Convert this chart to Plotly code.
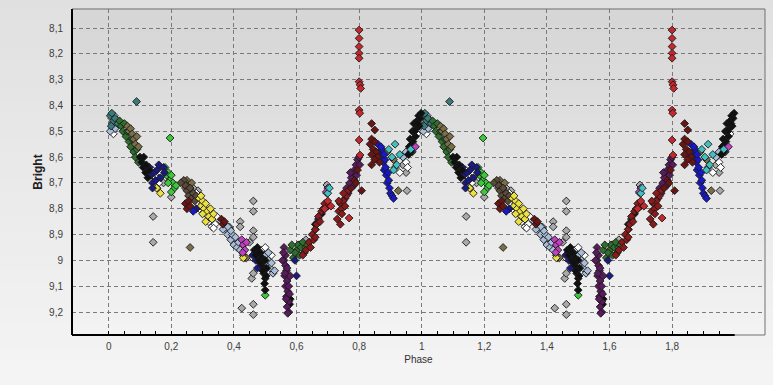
import plotly.graph_objects as go

# ---------------- data (phase 0..1, repeated for 1..2) ----------------
teal_phase = [0.005, 0.01, 0.015, 0.02, 0.008, 0.089, 0.03, 0.97]
teal_mag = [8.44, 8.43, 8.46, 8.45, 8.48, 8.385, 8.47, 8.58]

cyan_phase = [0.895, 0.905, 0.915, 0.92, 0.93, 0.91, 0.70, 0.705, 0.965]
cyan_mag = [8.57, 8.60, 8.55, 8.63, 8.59, 8.65, 8.74, 8.72, 8.57]

steel_phase = [0.012, 0.02, 0.028, 0.005, 0.018, 0.37, 0.375, 0.38, 0.385, 0.39,
               0.395, 0.40, 0.405, 0.41, 0.415, 0.42, 0.39, 0.38, 0.50, 0.51,
               0.515, 0.52, 0.525, 0.53, 0.51, 0.94, 0.95, 0.36, 0.365]
steel_mag = [8.47, 8.49, 8.46, 8.50, 8.44, 8.86, 8.88, 8.90, 8.87, 8.92,
             8.90, 8.94, 8.91, 8.95, 8.93, 8.96, 8.885, 8.87, 8.98, 9.00,
             9.03, 9.01, 9.05, 9.04, 8.97, 8.60, 8.58, 8.85, 8.88]

white_phase = [0.01, 0.025, 0.015, 0.14, 0.15, 0.16, 0.155, 0.165, 0.30, 0.31,
               0.32, 0.33, 0.34, 0.29, 0.28, 0.26, 0.49, 0.50, 0.52, 0.46,
               0.62, 0.64, 0.95, 0.955, 0.93, 0.985, 0.345, 0.335]
white_mag = [8.45, 8.48, 8.51, 8.65, 8.68, 8.70, 8.72, 8.66, 8.78, 8.82,
             8.85, 8.87, 8.86, 8.80, 8.74, 8.72, 8.96, 8.95, 8.98, 8.99,
             8.95, 8.93, 8.62, 8.64, 8.66, 8.51, 8.83, 8.875]

grey_phase = [0.142, 0.142, 0.20, 0.42, 0.42, 0.462, 0.462, 0.462, 0.462, 0.457,
              0.462, 0.425, 0.462, 0.462, 0.697, 0.697, 0.953, 0.95, 0.94, 0.27,
              0.285, 0.17, 0.175, 0.61, 0.63, 0.695, 0.69, 0.45]
grey_mag = [8.83, 8.93, 8.755, 8.85, 8.87, 8.77, 8.81, 8.885, 8.91, 9.07,
            9.05, 9.185, 9.17, 9.21, 8.708, 8.74, 8.73, 8.66, 8.63, 8.72,
            8.73, 8.67, 8.70, 8.94, 8.92, 8.78, 8.80, 8.93]

dkgreen_phase = [0.035, 0.04, 0.045, 0.05, 0.055, 0.06, 0.065, 0.07, 0.075, 0.08,
                 0.085, 0.09, 0.095, 0.60, 0.605, 0.61, 0.615, 0.62, 0.625, 0.63,
                 0.59, 0.595, 0.635, 0.435, 0.43, 0.58, 0.585]
dkgreen_mag = [8.46, 8.48, 8.50, 8.47, 8.52, 8.50, 8.54, 8.56, 8.53, 8.58,
               8.60, 8.57, 8.62, 8.96, 8.94, 8.98, 8.95, 8.93, 8.97, 8.95,
               8.99, 8.97, 8.94, 8.99, 8.98, 8.96, 8.94]

olive_phase = [0.06, 0.065, 0.07, 0.075, 0.08, 0.085, 0.09, 0.095, 0.26, 0.24,
               0.245, 0.25, 0.255, 0.26, 0.265, 0.925, 0.91, 0.915, 0.44, 0.89]
olive_mag = [8.48, 8.50, 8.49, 8.51, 8.53, 8.55, 8.52, 8.56, 8.95, 8.70,
             8.72, 8.69, 8.71, 8.74, 8.70, 8.73, 8.61, 8.64, 8.99, 8.58]

black_phase = [0.10, 0.105, 0.11, 0.112, 0.118, 0.12, 0.125, 0.13, 0.465, 0.47,
               0.475, 0.48, 0.485, 0.49, 0.495, 0.50, 0.50, 0.505, 0.49, 0.48,
               0.495, 0.50, 0.578, 0.58, 0.96, 0.963, 0.965, 0.97, 0.972, 0.975,
               0.98, 0.982, 0.985, 0.99, 0.992, 0.995, 0.998, 0.968, 0.978, 0.988,
               0.66, 0.68, 0.485, 0.492, 0.498, 0.503, 0.975, 0.958]
black_mag = [8.60, 8.62, 8.64, 8.60, 8.66, 8.63, 8.68, 8.65, 8.96, 8.98,
             8.95, 9.00, 8.97, 9.02, 9.05, 9.07, 9.115, 9.03, 8.99, 8.97,
             9.00, 9.00, 9.17, 9.15, 8.56, 8.53, 8.58, 8.50, 8.54, 8.47,
             8.52, 8.49, 8.46, 8.44, 8.48, 8.45, 8.43, 8.55, 8.50, 8.47,
             8.86, 8.82, 9.01, 9.04, 9.09, 9.06, 8.56, 8.59]

navy_phase = [0.13, 0.135, 0.14, 0.145, 0.15, 0.155, 0.16, 0.165, 0.14, 0.28,
              0.47, 0.46, 0.475, 0.60, 0.595, 0.66, 0.67, 0.175, 0.178]
navy_mag = [8.64, 8.67, 8.70, 8.66, 8.69, 8.65, 8.63, 8.68, 8.72, 8.80,
            9.00, 8.98, 9.03, 9.06, 9.00, 8.88, 8.84, 8.64, 8.66]

blue_phase = [0.86, 0.865, 0.87, 0.873, 0.877, 0.88, 0.883, 0.887, 0.89, 0.893,
              0.897, 0.90, 0.905, 0.91, 0.87, 0.88, 0.885, 0.895, 0.27]
blue_mag = [8.55, 8.58, 8.60, 8.57, 8.62, 8.65, 8.61, 8.67, 8.70, 8.66,
            8.72, 8.74, 8.75, 8.76, 8.56, 8.59, 8.64, 8.69, 8.81]

green_phase = [0.18, 0.185, 0.19, 0.195, 0.20, 0.205, 0.21, 0.215, 0.19, 0.196,
               0.50, 0.20]
green_mag = [8.64, 8.67, 8.66, 8.69, 8.67, 8.70, 8.72, 8.71, 8.70, 8.526,
             9.135, 8.735]

brown_phase = [0.24, 0.245, 0.25, 0.255, 0.26, 0.265, 0.27, 0.275, 0.28, 0.23]
brown_mag = [8.69, 8.71, 8.73, 8.75, 8.72, 8.76, 8.74, 8.77, 8.75, 8.70]

maroon_phase = [0.245, 0.25, 0.255, 0.26, 0.36, 0.365, 0.37, 0.84, 0.85, 0.84,
                0.835, 0.84, 0.845, 0.85, 0.855, 0.86, 0.84, 0.85, 0.865, 0.808,
                0.775, 0.785, 0.795, 0.79]
maroon_mag = [8.78, 8.80, 8.77, 8.79, 8.84, 8.86, 8.85, 8.47, 8.495, 8.63,
              8.55, 8.53, 8.57, 8.54, 8.58, 8.60, 8.59, 8.61, 8.62, 8.73,
              8.72, 8.69, 8.65, 8.70]

yellow_phase = [0.29, 0.295, 0.30, 0.305, 0.31, 0.315, 0.32, 0.325, 0.33, 0.335,
                0.31, 0.30, 0.295, 0.43, 0.153, 0.165]
yellow_mag = [8.76, 8.79, 8.77, 8.80, 8.78, 8.81, 8.83, 8.80, 8.84, 8.82,
              8.85, 8.82, 8.75, 8.99, 8.72, 8.74]

magenta_phase = [0.425, 0.43, 0.435, 0.44, 0.428, 0.70, 0.695, 0.98]
magenta_mag = [8.92, 8.94, 8.96, 8.93, 8.97, 8.72, 8.735, 8.56]

purple_phase = [0.56, 0.565, 0.56, 0.565, 0.568, 0.562, 0.57, 0.565, 0.572, 0.568,
                0.575, 0.57, 0.575, 0.572, 0.558, 0.563, 0.575, 0.57, 0.578, 0.76,
                0.77, 0.78, 0.785, 0.79, 0.795, 0.80, 0.775, 0.765, 0.755,
                0.555, 0.58, 0.567, 0.783, 0.772, 0.792, 0.802]
purple_mag = [8.95, 8.98, 9.00, 9.02, 9.04, 9.06, 9.08, 9.10, 9.12, 9.14,
              9.16, 9.18, 9.20, 9.205, 8.97, 9.05, 9.10, 9.03, 9.13, 8.72,
              8.70, 8.67, 8.65, 8.63, 8.61, 8.60, 8.68, 8.74, 8.76,
              9.00, 9.06, 9.15, 8.71, 8.66, 8.67, 8.63]

darkred_phase = [0.62, 0.63, 0.64, 0.65, 0.655, 0.66, 0.665, 0.67, 0.675, 0.68,
                 0.685, 0.69, 0.73, 0.735, 0.74, 0.745, 0.75, 0.755, 0.76, 0.765,
                 0.745, 0.74, 0.645, 0.66, 0.70, 0.75, 0.735]
darkred_mag = [8.98, 8.96, 8.93, 8.90, 8.92, 8.88, 8.86, 8.83, 8.85, 8.81,
               8.80, 8.78, 8.84, 8.81, 8.78, 8.80, 8.77, 8.79, 8.75, 8.73,
               8.82, 8.86, 8.95, 8.91, 8.79, 8.74, 8.77]

red_phase = [0.80, 0.80, 0.80, 0.80, 0.80, 0.80, 0.803, 0.805, 0.80, 0.802,
             0.80, 0.803, 0.69, 0.70, 0.768, 0.71]
red_mag = [8.108, 8.14, 8.172, 8.198, 8.217, 8.308, 8.32, 8.334, 8.418, 8.43,
           8.534, 8.592, 8.80, 8.77, 8.836, 8.79]

x_tick_vals = [0, 0.2, 0.4, 0.6, 0.8, 1.0, 1.2, 1.4, 1.6, 1.8]
x_tick_text = ["0", "0,2", "0,4", "0,6", "0,8", "1", "1,2", "1,4", "1,6", "1,8"]
y_tick_vals = [8.1, 8.2, 8.3, 8.4, 8.5, 8.6, 8.7, 8.8, 8.9, 9.0, 9.1, 9.2]
y_tick_text = ["8,1", "8,2", "8,3", "8,4", "8,5", "8,6", "8,7", "8,8", "8,9", "9", "9,1", "9,2"]

groups = [
    (grey_phase, grey_mag, "#a9a9a9"),
    (white_phase, white_mag, "#ffffff"),
    (steel_phase, steel_mag, "#a8bcd8"),
    (teal_phase, teal_mag, "#3a7a7a"),
    (dkgreen_phase, dkgreen_mag, "#2e6e2e"),
    (olive_phase, olive_mag, "#7a6e48"),
    (brown_phase, brown_mag, "#5a4a38"),
    (yellow_phase, yellow_mag, "#ece040"),
    (green_phase, green_mag, "#3cc83c"),
    (navy_phase, navy_mag, "#1a1a80"),
    (blue_phase, blue_mag, "#1818c8"),
    (black_phase, black_mag, "#101010"),
    (magenta_phase, magenta_mag, "#c040c0"),
    (cyan_phase, cyan_mag, "#40c0c0"),
    (purple_phase, purple_mag, "#5a1a5e"),
    (darkred_phase, darkred_mag, "#8b1a1a"),
    (maroon_phase, maroon_mag, "#6a1414"),
    (red_phase, red_mag, "#c4282e"),
]

fig = go.Figure()
for ph, mg, col in groups:
    xs = list(ph) + [p + 1 for p in ph]
    ys = list(mg) + list(mg)
    fig.add_trace(go.Scatter(
        x=xs, y=ys, mode="markers",
        marker=dict(symbol="diamond", size=6, color=col,
                    line=dict(color="rgba(25,25,25,0.9)", width=1)),
        showlegend=False, hoverinfo="x+y"))

X0, X1 = -0.1173, 2.0968
Y_TOP, Y_BOT = 8.0264, 9.289

shapes = []
# paper gradient
n = 40
for i in range(n):
    t = i / (n - 1)
    c = int(222 + (249 - 222) * t)
    shapes.append(dict(type="rect", xref="paper", yref="paper",
                       x0=-0.2, x1=1.2, y0=1.2 - (i + 1) * 1.6 / n, y1=1.2 - i * 1.6 / n + 0.001,
                       fillcolor=f"rgb({c},{c},{c})", line=dict(width=0), layer="below"))
# plot area gradient
m = 40
for i in range(m):
    t = i / (m - 1)
    c = int(214 + (243 - 214) * t)
    shapes.append(dict(type="rect", xref="x domain", yref="y domain",
                       x0=0, x1=1, y0=1 - (i + 1) / m, y1=1 - i / m + 0.002,
                       fillcolor=f"rgb({c},{c},{c})", line=dict(width=0), layer="below"))
# frame
shapes.append(dict(type="rect", xref="x domain", yref="y domain", x0=0, x1=1, y0=0, y1=1,
                   line=dict(color="#707070", width=1), layer="above"))
# left axis line
shapes.append(dict(type="line", xref="x domain", yref="y domain", x0=0, x1=0, y0=0, y1=1,
                   line=dict(color="#000000", width=2), layer="above"))
# bottom axis line up to phase 2
shapes.append(dict(type="line", xref="x", yref="y domain", x0=X0, x1=2.0, y0=0, y1=0,
                   line=dict(color="#000000", width=2), layer="above"))

minor_vals = [round(k * 0.05, 2) for k in range(1, 40) if k % 4 != 0]

fig.update_layout(
    width=773, height=385,
    margin=dict(l=72, r=8, t=9, b=50),
    paper_bgcolor="#ececec", plot_bgcolor="rgba(0,0,0,0)",
    font=dict(family="Liberation Sans, Arial, sans-serif", size=10, color="#404040"),
    shapes=shapes,
    xaxis=dict(range=[X0, X1], tickvals=x_tick_vals, ticktext=x_tick_text,
               showgrid=True, gridcolor="#7a7a7a", gridwidth=1, griddash="4px,3px",
               zeroline=False, showline=False, ticks="inside", ticklen=4,
               tickcolor="#000", ticklabelstandoff=4,
               minor=dict(tickvals=minor_vals, ticks="inside", ticklen=4,
                          tickcolor="#000", showgrid=False),
               title=dict(text="Phase", font=dict(size=10, color="#303030"), standoff=4)),
    yaxis=dict(range=[Y_BOT, Y_TOP], tickvals=y_tick_vals, ticktext=y_tick_text,
               showgrid=True, gridcolor="#7a7a7a", gridwidth=1, griddash="4px,3px",
               zeroline=False, showline=False, ticks="", ticklabelstandoff=8,
               title=dict(text="<b>Bright</b>", font=dict(size=12, color="#202020"), standoff=3)),
)

fig.write_html("out.html", config={"displayModeBar": False},
               post_script="document.body.style.margin='0px';document.body.style.overflow='hidden';")
